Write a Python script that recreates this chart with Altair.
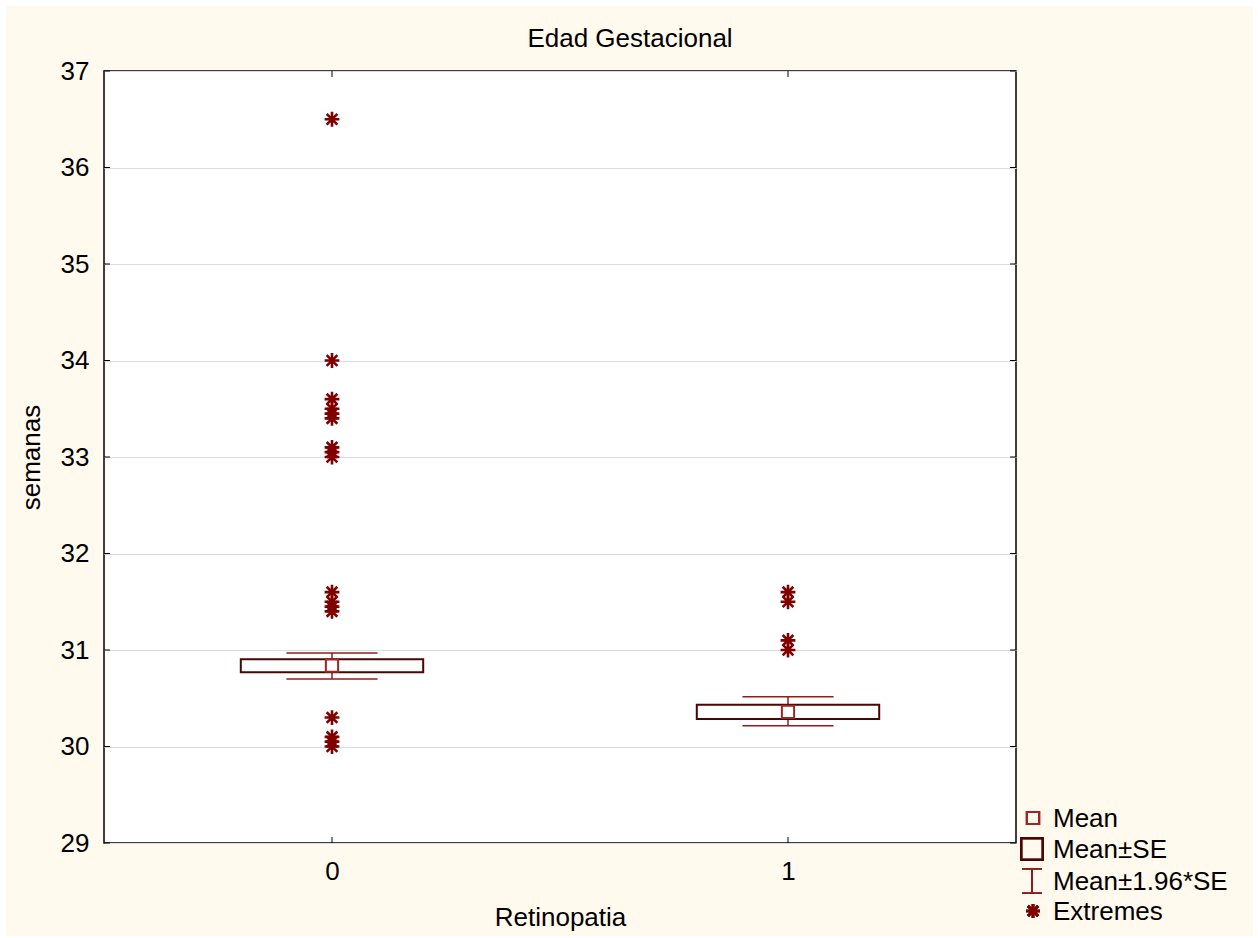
import altair as alt
import pandas as pd

# ---- data ----
groups = [0, 1]
group_labels = ["0", "1"]
means = [30.837, 30.36]
se_low = [30.77, 30.285]
se_high = [30.904, 30.433]
ci_low = [30.70, 30.216]
ci_high = [30.97, 30.516]

extreme_groups = [0] * 17 + [1] * 4
extreme_values = [36.5, 34.0, 33.6, 33.5, 33.45, 33.4, 33.1, 33.05, 33.0,
                  31.6, 31.5, 31.45, 31.4, 30.3, 30.1, 30.05, 30.0,
                  31.6, 31.5, 31.1, 31.0]

y_ticks = [29, 30, 31, 32, 33, 34, 35, 36, 37]
legend_labels = ["Mean", "Mean\u00b1SE", "Mean\u00b11.96*SE", "Extremes"]

# ---- styling ----
W, H = 912, 772
FONT = "Liberation Sans"
BG = "#FFF9EE"
BOX = "#4A0505"
MEAN_C = "#9E2626"
WHISK = "#8F1D1D"
EXT = "#800000"
ASTER = "M-1,0L1,0M0,-1L0,1M-0.72,-0.72L0.72,0.72M-0.72,0.72L0.72,-0.72"
IBEAM = "M-0.8,-1L0.8,-1M0,-1L0,1M-0.8,1L0.8,1"

summary = pd.DataFrame({
    "g": groups, "mean": means, "se_low": se_low, "se_high": se_high,
    "ci_low": ci_low, "ci_high": ci_high,
})
extremes = pd.DataFrame({"g": extreme_groups, "v": extreme_values})
yt = pd.DataFrame({"v": y_ticks})
xt = pd.DataFrame({"g": groups})

xscale = alt.Scale(domain=[-0.5, 1.5], nice=False, zero=False)
yscale = alt.Scale(domain=[29, 37], nice=False, zero=False)

x_axis = alt.Axis(values=groups, labelExpr="datum.value == 0 ? '0' : '1'",
                  title="Retinopatia", grid=False, domain=False, ticks=False, tickSize=0,
                  labelFont=FONT, labelFontSize=26, labelColor="black", labelPadding=15,
                  labelBaseline="top",
                  titleFont=FONT, titleFontSize=26, titleFontWeight="normal", titleColor="black",
                  titleBaseline="alphabetic", titleY=82)
y_axis = alt.Axis(values=y_ticks, title="semanas", grid=True, gridColor="#DCDCDC", gridWidth=1,
                  domain=False, ticks=False, tickSize=0,
                  labelFont=FONT, labelFontSize=26, labelColor="black", labelPadding=15,
                  titleFont=FONT, titleFontSize=26, titleFontWeight="normal", titleColor="black",
                  titleBaseline="alphabetic", titleX=-65, titleY=H / 2, titleAngle=-90)


def X(field):
    return alt.X(field, type="quantitative", scale=xscale, axis=x_axis)


def Y(field):
    return alt.Y(field, type="quantitative", scale=yscale, axis=y_axis)


base = alt.Chart(summary)

stem = base.mark_rule(color=WHISK, strokeWidth=1.5).encode(x=X("g"), y=Y("ci_low"), y2="ci_high")

cap_lo = base.transform_calculate(c1="datum.g - 0.1", c2="datum.g + 0.1").mark_rule(
    color=WHISK, strokeWidth=1.5).encode(x=X("c1"), x2="c2", y=Y("ci_low"))
cap_hi = base.transform_calculate(c1="datum.g - 0.1", c2="datum.g + 0.1").mark_rule(
    color=WHISK, strokeWidth=1.5).encode(x=X("c1"), x2="c2", y=Y("ci_high"))

box = base.transform_calculate(b1="datum.g - 0.2", b2="datum.g + 0.2").mark_rect(
    fill="white", stroke=BOX, strokeWidth=2).encode(x=X("b1"), x2="b2", y=Y("se_low"), y2="se_high")

mean_pt = base.mark_point(shape="square", size=150, filled=False, fill="white", fillOpacity=1,
                          stroke=MEAN_C, strokeWidth=2, opacity=1).encode(x=X("g"), y=Y("mean"))

ext_pts = alt.Chart(extremes).mark_point(shape=ASTER, size=220, filled=False, stroke=EXT,
                                        strokeWidth=2.6, opacity=1).encode(x=X("g"), y=Y("v"))

# inward ticks
tick_l = alt.Chart(yt).mark_rule(color="black", strokeWidth=1).encode(
    y=Y("v"), x=alt.value(0), x2=alt.value(6))
tick_r = alt.Chart(yt).mark_rule(color="black", strokeWidth=1).encode(
    y=Y("v"), x=alt.value(W - 6), x2=alt.value(W))
tick_b = alt.Chart(xt).mark_rule(color="black", strokeWidth=1).encode(
    x=X("g"), y=alt.value(H - 6), y2=alt.value(H))
tick_t = alt.Chart(xt).mark_rule(color="black", strokeWidth=1).encode(
    x=X("g"), y=alt.value(0), y2=alt.value(6))

# title
title = alt.Chart(pd.DataFrame({"t": ["Edad Gestacional"]})).mark_text(
    font=FONT, fontSize=26, color="black", align="center", baseline="alphabetic").encode(
    text="t:N", x=alt.value(526), y=alt.value(-24))

# legend
leg_rows_y = [747, 778, 810, 840]
leg_layers = []
for lab, yy in zip(legend_labels, leg_rows_y):
    leg_layers.append(alt.Chart(pd.DataFrame({"t": [lab]})).mark_text(
        font=FONT, fontSize=26, color="black", align="left", baseline="middle").encode(
        text="t:N", x=alt.value(949), y=alt.value(yy + 1)))
sym_df = pd.DataFrame({"t": legend_labels})
leg_layers.append(alt.Chart(sym_df).mark_point(shape="square", size=150, filled=False,
                                               stroke=MEAN_C, strokeWidth=2, opacity=1).encode(
    x=alt.value(929), y=alt.value(leg_rows_y[0])))
leg_layers.append(alt.Chart(sym_df).mark_point(shape="square", size=462, filled=False,
                                               stroke=BOX, strokeWidth=2, opacity=1).encode(
    x=alt.value(928), y=alt.value(leg_rows_y[1])))
leg_layers.append(alt.Chart(sym_df).mark_point(shape=IBEAM, size=600, filled=False,
                                               stroke=WHISK, strokeWidth=1.5, opacity=1).encode(
    x=alt.value(928), y=alt.value(leg_rows_y[2])))
leg_layers.append(alt.Chart(sym_df).mark_point(shape=ASTER, size=196, filled=False,
                                               stroke=EXT, strokeWidth=2.6, opacity=1).encode(
    x=alt.value(929), y=alt.value(leg_rows_y[3])))

# thin white outer frame
frame = alt.Chart(pd.DataFrame({"t": [0]})).mark_rect(fillOpacity=0, stroke="white", strokeWidth=6).encode(
    x=alt.value(-101), x2=alt.value(1152), y=alt.value(-68), y2=alt.value(868))

chart = alt.layer(
    stem, cap_lo, cap_hi, box, mean_pt, ext_pts,
    tick_l, tick_r, tick_b, tick_t, title, *leg_layers, frame
).properties(
    width=W, height=H,
    autosize=alt.AutoSizeParams(type="none"),
    padding={"left": 104, "top": 71, "right": 242, "bottom": 95},
    background=BG,
).configure_view(
    fill="white", stroke="black", strokeWidth=1.5
)

chart.save("out.html", embed_options={"renderer": "svg", "actions": False})
